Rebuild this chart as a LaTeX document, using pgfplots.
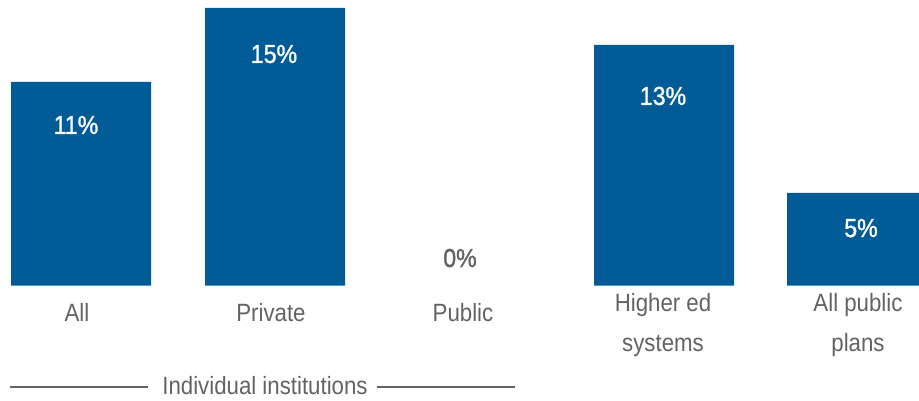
\documentclass[border=0pt]{standalone}
\usepackage{pgfplots}
\pgfplotsset{compat=1.18}
\usepackage{fontspec}
\setmainfont{Liberation Sans}[FakeStretch=0.89]
\newfontfamily\semib{Liberation Sans}[FakeStretch=0.89, FakeBold=1.2]
\definecolor{barblue}{HTML}{005B97}
\definecolor{txtgrey}{HTML}{636363}
\begin{document}
\begin{tikzpicture}
\clip (0,0) rectangle (919pt,400pt);
\begin{axis}[
  scale only axis, width=919pt, height=400pt,
  xmin=0, xmax=919, ymin=-6.189, ymax=15.432,
  hide axis, clip=true,
  ybar, bar width=140,
]
\addplot[fill=barblue, draw=none] coordinates {(81,11) (275,15) (664,13) (857,5)};
\begin{scope}[every node/.style={anchor=base, font=\fontsize{25}{28}\selectfont, text=txtgrey, inner sep=0pt}]
\node at (axis cs:77,-1.97) {All};
\node at (axis cs:271,-1.97) {Private};
\node at (axis cs:463,-1.97) {Public};
\node at (axis cs:663,-1.43) {Higher ed};
\node at (axis cs:663,-3.59) {systems};
\node at (axis cs:858,-1.43) {All public};
\node at (axis cs:858,-3.59) {plans};
\node at (axis cs:265,-5.9) {Individual institutions};
\end{scope}
\begin{scope}[every node/.style={anchor=base, font=\fontsize{26}{28}\selectfont\semib, text=white, inner sep=0pt}]
\node at (axis cs:76,8.19) {11\%};
\node at (axis cs:274,12.03) {15\%};
\node at (axis cs:663,9.76) {13\%};
\node at (axis cs:861,2.62) {5\%};
\node[text=txtgrey] at (axis cs:460,1.0) {0\%};
\end{scope}
\draw[txtgrey, line width=1.2pt] (axis cs:10,-5.49) -- (axis cs:148,-5.49);
\draw[txtgrey, line width=1.2pt] (axis cs:377,-5.49) -- (axis cs:515,-5.49);
\end{axis}
\end{tikzpicture}
\end{document}
